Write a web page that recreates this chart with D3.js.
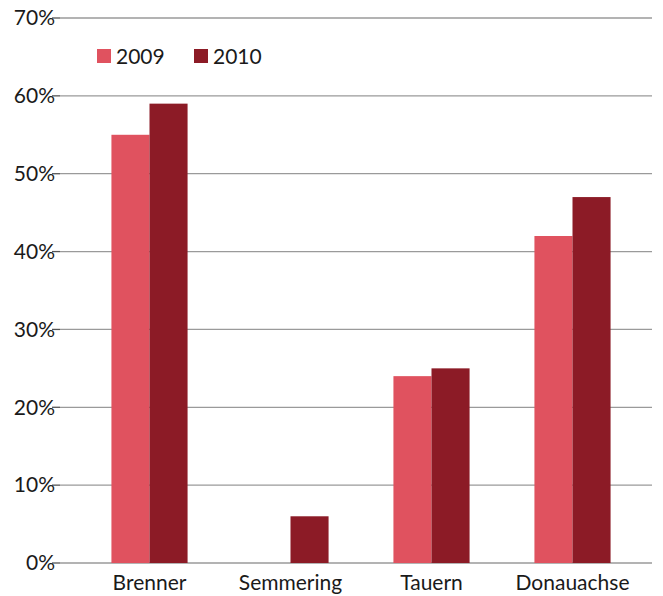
<!DOCTYPE html>
<html><head><meta charset="utf-8">
<script src="https://cdn.jsdelivr.net/npm/d3@7"></script>
<style>body{margin:0;background:#fff}svg{display:block}</style>
</head><body>
<script>
const categories = ["Brenner","Semmering","Tauern","Donauachse"];
const seriesNames = ["2009","2010"];
const values2009 = [0.55, 0, 0.24, 0.42];
const values2010 = [0.59, 0.06, 0.25, 0.47];
const yTicks = [0,0.1,0.2,0.3,0.4,0.5,0.6,0.7];
const colors = ["#e0525f","#8c1b26"];

const W=663,H=596;
const svg=d3.select("body").append("svg").attr("width",W).attr("height",H);
const font="Lato, 'Open Sans', sans-serif";
const fs=21;
const y=d3.scaleLinear().domain([0,0.7]).range([563,18]);
const x0=d3.scaleBand().domain(categories).range([79,643]).paddingInner(0.46).paddingOuter(0.23);
const x1=d3.scaleBand().domain(seriesNames).range([0,x0.bandwidth()]);

// gridlines
svg.append("g").selectAll("line").data(yTicks).join("line")
 .attr("x1",60).attr("x2",652).attr("y1",d=>y(d)).attr("y2",d=>y(d))
 .attr("stroke","#9a9a9a").attr("stroke-width",1.3);
// tick marks
svg.append("g").selectAll("line").data(yTicks).join("line")
 .attr("x1",52).attr("x2",60).attr("y1",d=>y(d)).attr("y2",d=>y(d))
 .attr("stroke","#555").attr("stroke-width",1.3);
// y labels
svg.append("g").selectAll("text").data(yTicks).join("text")
 .attr("x",55).attr("y",d=>y(d)).attr("dy","0.35em").attr("text-anchor","end")
 .attr("font-family",font).attr("font-size",fs).attr("fill","#1a1a1a")
 .text(d=>d3.format(".0%")(d));

const data=categories.map((c,i)=>({cat:c,vals:[values2009[i],values2010[i]]}));
const g=svg.append("g").selectAll("g").data(data).join("g").attr("transform",d=>`translate(${x0(d.cat)},0)`);
g.selectAll("rect").data(d=>d.vals.map((v,j)=>({s:seriesNames[j],v,j}))).join("rect")
 .attr("x",d=>x1(d.s)).attr("width",x1.bandwidth())
 .attr("y",d=>y(d.v)).attr("height",d=>y(0)-y(d.v)).attr("fill",d=>colors[d.j]);

// x labels
svg.append("g").selectAll("text").data(categories).join("text")
 .attr("x",d=>x0(d)+x0.bandwidth()/2).attr("y",590).attr("text-anchor","middle")
 .attr("font-family",font).attr("font-size",fs).attr("fill","#1a1a1a").text(d=>d);

// legend
const lg=svg.append("g").selectAll("g").data(seriesNames).join("g")
 .attr("transform",(d,i)=>`translate(${97+i*97},49)`);
lg.append("rect").attr("width",14).attr("height",14).attr("fill",(d,i)=>colors[i]);
lg.append("text").attr("x",19).attr("y",7).attr("dy","0.36em")
 .attr("font-family",font).attr("font-size",fs).attr("fill","#1a1a1a").text(d=>d);
</script>
</body></html>
